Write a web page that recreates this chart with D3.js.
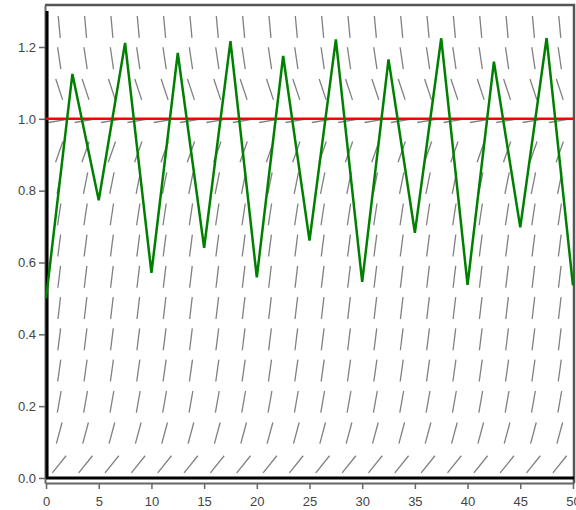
<!DOCTYPE html>
<html>
<head>
<meta charset="utf-8">
<script src="https://cdn.jsdelivr.net/npm/d3@7"></script>
<style>
  body { margin: 0; background: #fff; }
  .tick text { font-family: "Liberation Sans", Arial, sans-serif; font-size: 13px; fill: #444; }
</style>
</head>
<body>
<div id="chart"></div>
<script>
// euler steps (h = 2.5)
const times = [0, 2.5, 5, 7.5, 10, 12.5, 15, 17.5, 20, 22.5, 25, 27.5, 30, 32.5, 35, 37.5, 40, 42.5, 45, 47.5, 50];
const eulerY = [0.5, 1.125, 0.7734, 1.2115, 0.5709, 1.1833, 0.641, 1.2163, 0.5586, 1.175, 0.6609,
                1.2212, 0.5459, 1.1657, 0.6829, 1.2243, 0.5379, 1.1593, 0.6977, 1.225, 0.536];
const equilibrium = 1;

// slope field grid
const fieldT = [1.25, 3.75, 6.25, 8.75, 11.25, 13.75, 16.25, 18.75, 21.25, 23.75,
                26.25, 28.75, 31.25, 33.75, 36.25, 38.75, 41.25, 43.75, 46.25, 48.75];
const fieldY = [0.038, 0.125, 0.212, 0.299, 0.386, 0.473, 0.56, 0.647, 0.734, 0.821, 0.908, 0.995, 1.082, 1.169, 1.256];
const fieldSlope = [0.0366, 0.1094, 0.1671, 0.2096, 0.237, 0.2493, 0.2464, 0.2284, 0.1952, 0.147, 0.0835,
                    0.005, -0.0887, -0.1976, -0.3215];

const xTicks = [0, 5, 10, 15, 20, 25, 30, 35, 40, 45, 50];
const yTicks = [0, 0.2, 0.4, 0.6, 0.8, 1.0, 1.2];

const W = 576, H = 510;
const svg = d3.select("#chart").append("svg")
  .attr("width", W)
  .attr("height", H);

const xScale = d3.scaleLinear().domain([-0.1, 50.1]).range([45, 574]);
const yScale = d3.scaleLinear().domain([-0.014, 1.317]).range([483, 5]);

//frame
svg.append("path")
  .attr("d", `M${xScale(-0.1)},${yScale(1.317)} H${xScale(50.1)} V${yScale(-0.014)}`)
  .attr("fill", "none")
  .attr("stroke", "#555")
  .attr("stroke-width", 2.5);

//slope field
const segLen = 22;
const cells = [];
fieldY.forEach((y, i) => {
  fieldT.forEach(t => cells.push({ t: t, y: y, s: fieldSlope[i] }));
});

svg.append("g").selectAll("line")
  .data(cells)
  .enter().append("line")
    .each(function(d) {
      let dx = xScale(d.t + 1) - xScale(d.t);
      let dy = yScale(d.y + d.s) - yScale(d.y);
      let n = Math.sqrt(dx * dx + dy * dy);
      dx = dx / n * segLen / 2;
      dy = dy / n * segLen / 2;
      let cx = xScale(d.t), cy = yScale(d.y);
      d3.select(this)
        .attr("x1", cx - dx).attr("y1", cy - dy)
        .attr("x2", cx + dx).attr("y2", cy + dy);
    })
    .attr("stroke", "#808080")
    .attr("stroke-width", 1.3);

//axes
const xAxis = svg.append("g")
  .attr("transform", `translate(0, ${yScale(-0.014)})`)
  .call(d3.axisBottom(xScale).tickValues(xTicks).tickFormat(d3.format("d")).tickSize(6).tickSizeOuter(0));

const yAxis = svg.append("g")
  .attr("transform", `translate(${xScale(-0.1)}, 0)`)
  .call(d3.axisLeft(yScale).tickValues(yTicks).tickFormat(d3.format(".1f")).tickSize(6).tickSizeOuter(0));

[xAxis, yAxis].forEach(g => {
  g.select(".domain").attr("stroke", "#666").attr("stroke-width", 2);
  g.selectAll(".tick line").attr("stroke", "#666").attr("stroke-width", 1.5);
});
xAxis.selectAll(".tick text").attr("dy", "1.1em");

//t = 0 and y = 0 lines
svg.append("line")
  .attr("x1", xScale(0) + 1).attr("x2", xScale(0) + 1)
  .attr("y1", yScale(0)).attr("y2", yScale(1.3))
  .attr("stroke", "#000").attr("stroke-width", 3);

svg.append("line")
  .attr("x1", xScale(0)).attr("x2", xScale(50.1))
  .attr("y1", yScale(0)).attr("y2", yScale(0))
  .attr("stroke", "#000").attr("stroke-width", 3);

//equilibrium
svg.append("line")
  .attr("x1", xScale(0)).attr("x2", xScale(50.1))
  .attr("y1", yScale(equilibrium)).attr("y2", yScale(equilibrium))
  .attr("stroke", "#f00").attr("stroke-width", 2.5);

//euler solution
const line = d3.line()
  .x((d, i) => xScale(times[i]))
  .y(d => yScale(d));

svg.append("path")
  .datum(eulerY)
  .attr("d", line)
  .attr("fill", "none")
  .attr("stroke", "#008000")
  .attr("stroke-width", 2.5);
</script>
</body>
</html>
